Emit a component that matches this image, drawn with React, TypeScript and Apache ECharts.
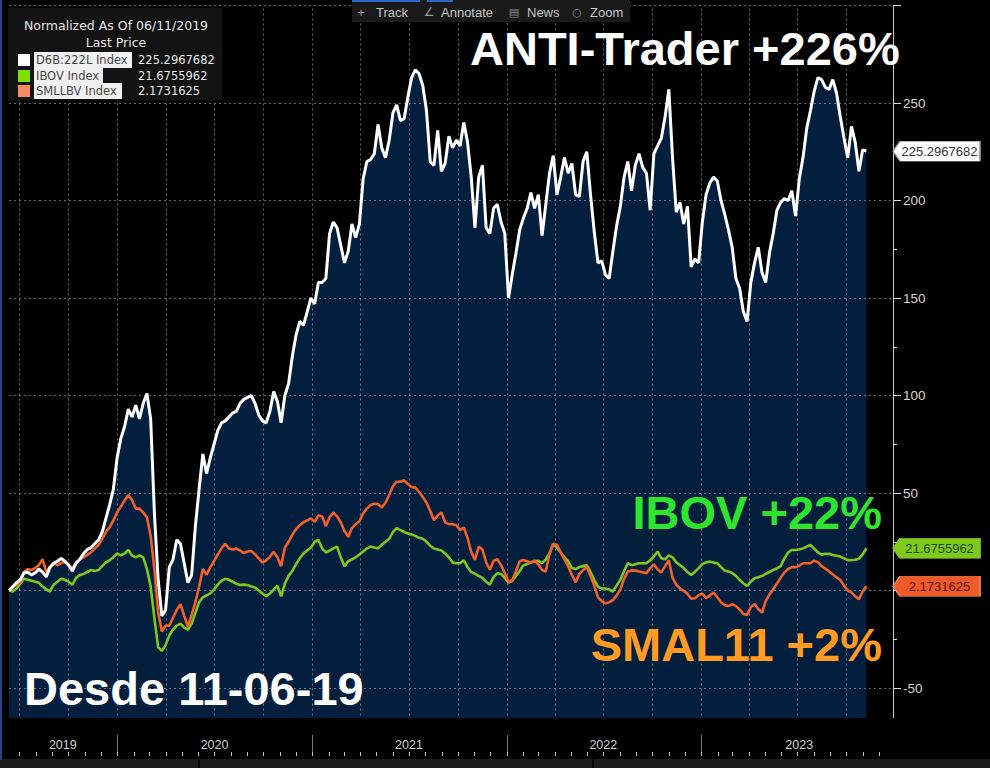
import React, { useEffect, useRef } from "react";
import * as echarts from "echarts";

// ---------------- data ----------------
const START_DATE = "2019-06-11";
const STEP_DAYS = 7;
const AXIS_END = "2023-12-27";

// D6B:222L Index (ANTI-Trader), weekly, normalized %
const ANTI = [
  0, 2, 4, 5.5, 9, 9.5, 8, 9, 11, 9.5,
  7, 12, 14, 15, 16.5, 15, 13, 10, 14, 16,
  19, 21, 22, 24, 26, 30, 37, 44, 52, 68,
  78, 84, 93, 89, 95, 88, 96, 101, 88, 40,
  6, -13, -10, 12, 16, 26, 24, 14, 4, 8,
  33, 52, 70, 60, 68, 75, 82, 86, 87, 89,
  91, 92, 96, 98, 99, 100, 96, 90, 87, 86,
  92, 102, 97, 86, 100, 106, 120, 131, 138, 136,
  143, 150, 147, 158, 158, 160, 183, 189, 186, 177,
  168, 174, 188, 181, 188, 211, 220, 221, 224, 239,
  227, 222, 231, 245, 249, 241, 242, 253, 263, 267,
  265, 259, 246, 220, 218, 236, 215, 219, 233, 227,
  231, 228, 240, 230, 212, 186, 212, 218, 186, 183,
  196, 198, 189, 183, 150, 162, 173, 185, 191, 196,
  204, 196, 203, 182, 198, 214, 223, 203, 212, 222,
  214, 219, 203, 202, 220, 225, 203, 184, 168, 169,
  162, 160, 174, 187, 197, 212, 220, 205, 218, 224,
  217, 214, 195, 224, 228, 232, 243, 257, 222, 194,
  199, 188, 197, 166, 170, 168, 189, 203, 209, 212,
  210, 200, 193, 185, 176, 160, 155, 143, 138, 158,
  168, 176, 163, 158, 173, 183, 195, 199, 201, 200,
  205, 192, 211, 222, 237, 246, 256, 263, 262, 258,
  257, 262, 255, 243, 232, 222, 238, 230, 215, 226,
  225.2967682,
];

// IBOV Index
const IBOV = [
  0, -0.5, 1, 3.5, 6, 5.5, 5, 4.5, 4, 2,
  0.5, -0.5, 3, 4.5, 6, 5.5, 4.5, 3, 6.5, 8,
  8.5, 9.5, 10.5, 10, 10.5, 12.5, 14.5, 15.5, 17, 19,
  18, 19, 20.8, 18, 17, 18, 17, 11, 2, -14,
  -29, -31, -28, -23, -20, -18, -17, -19, -20, -17,
  -11.5, -6, -3.5, -2.5, -1.5, 0.5, 3, 5, 6, 5.5,
  4.5, 3.5, 2.8, 3, 2.8, 2, 1.5, 0, -1.5, -3,
  -1.5, 0.5, 2.5, -3, 3.5, 7.5, 10, 13.5, 16.5, 19,
  20.5, 22, 25, 26, 21.6, 19.5, 20.5, 21.6, 22.5, 17,
  12.5, 15, 16, 17, 18.5, 20, 21.5, 22.5, 22, 21.6,
  23.5, 25, 26.5, 30, 32, 31, 30, 29.2, 28.7, 28,
  27, 26.5, 25, 23, 21.5, 21, 20.5, 19, 17, 14.3,
  14, 14, 15.5, 12, 9.5, 8.5, 7.5, 6.5, 4.5, 3,
  7, 8.8, 8.5, 6.5, 4, 5, 7.5, 10, 13, 13.5,
  14.5, 15, 15.3, 14, 16, 19, 24, 22, 19.5, 17,
  15, 11.5, 11, 12, 12.5, 13, 9.5, 5.5, 2, 1,
  1, 0.5, -0.5, 2.5, 5.5, 10, 14, 13, 13.5, 14,
  14, 14, 15.5, 17.5, 20, 16.5, 16, 18, 17, 14.5,
  13, 11.5, 9.5, 8, 9.5, 11.5, 13.5, 14.5, 14.8, 14.3,
  14, 12, 10.3, 9.8, 9, 7.5, 5.5, 3.7, 2.3, 4.5,
  6.3, 6.8, 7.5, 8.5, 9.5, 10.5, 11.3, 12.5, 16.5, 19.5,
  20.8, 20.8, 21, 21.6, 22.5, 23.3, 21.5, 19.5, 18.4, 18.8,
  18.8, 18.2, 17.8, 17.4, 16.5, 15.6, 15.6, 15.8, 16.3, 18.5,
  21.6755962,
];

// SMLLBV Index
const SMLL = [
  0, 1.5, 3.2, 4, 9.5, 11, 10.5, 11.5, 13, 16,
  9.5, 12, 13.8, 13, 14, 14.8, 13, 11.5, 14.5, 16,
  17, 18.3, 19.6, 21.5, 23.3, 26.5, 30, 32.5, 36, 40,
  43, 46, 49, 46.4, 42, 42, 40, 37.5, 28, 11,
  -11, -21, -18, -18, -14, -10, -7, -13, -18.5, -12.5,
  -6, 2, 11, 8, 12, 15, 18.5, 21.5, 24, 21.5,
  21, 21.5, 20.5, 19.2, 20, 20.3, 18.5, 16.5, 14.3, 15.5,
  17.4, 19.8, 17, 12.5, 22, 25, 28.5, 31.5, 33.5, 35,
  36, 37, 35.2, 38.5, 38, 33, 37.5, 40, 38, 35,
  30.5, 27.5, 32, 34, 35.5, 39.6, 42, 43.9, 44.5, 44.3,
  42.6, 45, 49, 53.5, 55.8, 55.8, 56.5, 54.6, 53, 52.8,
  50.5, 48, 45, 40.8, 36, 38.5, 40, 35, 34, 34,
  33.5, 31, 32.3, 27, 19.8, 15.7, 22.5, 21, 14.5, 10.7,
  15.3, 16, 13, 9, 4.5, 5.3, 10, 15, 15.6, 15,
  14.2, 15.4, 13.3, 10.5, 9.7, 19, 24, 23.5, 19.5, 16,
  12.5, 8, 4.2, 8.5, 10.5, 12, 7.5, 2.5, -3.5, -5.4,
  -6.6, -6, -5, -2.5, 0.5, 6, 9.7, 10.3, 10.2, 9.8,
  9.3, 8.9, 11.5, 13.4, 10.8, 9.3, 12.5, 15.5, 6.5, 3,
  1, -0.2, -1.7, -4.2, -4, -2.4, -1.5, -4, -2.5, -1,
  -3.5, -6, -7.5, -8, -7, -8, -9.7, -12, -12.5, -8.5,
  -7, -9.5, -11.3, -5.4, -2, 0.5, 3.5, 6.5, 9.3, 11,
  12, 12, 12.7, 14, 14, 14, 15.3, 14.5, 12.5, 11.2,
  9.8, 8.2, 6.8, 5.4, 2.5, 0, -1, -3, -4.5, -0.5,
  2.1731625,
];

const LAST_LABELS = ["225.2967682", "21.6755962", "2.1731625"];
const LEGEND_NAMES = ["D6B:222L Index", "IBOV Index", "SMLLBV Index"];

const Y_MIN = -100;
const Y_MAX = 300;
const Y_STEP = 50;

const QUARTER_LINES = [
  "2019-07-01", "2019-10-01",
  "2020-01-01", "2020-04-01", "2020-07-01", "2020-10-01",
  "2021-01-01", "2021-04-01", "2021-07-01", "2021-10-01",
  "2022-01-01", "2022-04-01", "2022-07-01", "2022-10-01",
  "2023-01-01", "2023-04-01", "2023-07-01", "2023-10-01",
];
const YEAR_STARTS = ["2020-01-01", "2021-01-01", "2022-01-01", "2023-01-01"];
const YEAR_LABELS = [
  { label: "2019", at: "2019-09-20" },
  { label: "2020", at: "2020-07-01" },
  { label: "2021", at: "2021-07-01" },
  { label: "2022", at: "2022-07-01" },
  { label: "2023", at: "2023-07-04" },
];

// ---------------- helpers ----------------
const DAY = 86400000;
const ts = (s: string) => Date.parse(s + "T00:00:00Z");
const X_MIN = ts(START_DATE);
const X_MAX = ts(AXIS_END);
const DATES = ANTI.map((_, i) => X_MIN + i * STEP_DAYS * DAY);

const MONTH_TICKS: number[] = [];
for (let y = 2019; y <= 2023; y++) {
  for (let m = 0; m < 12; m++) {
    const t = Date.UTC(y, m, 1);
    if (t > X_MIN && t < X_MAX) MONTH_TICKS.push(t);
  }
}

const FONT = '"Liberation Sans", Arial, sans-serif';
const LFONT = '"DejaVu Sans", sans-serif';
const BIG = `bold 47px ${FONT}`;

function tag(value: number, text: string, bg: string, fg: string, border: string) {
  return {
    silent: true,
    symbol: "path://M0,10L7,0L87,0L87,20L7,20Z",
    symbolSize: [87, 20],
    symbolKeepAspect: false,
    symbolOffset: [43.5, 0],
    itemStyle: { color: bg, borderColor: border, borderWidth: 0.8 },
    label: {
      show: true,
      position: "inside",
      offset: [3, 0],
      formatter: text,
      color: fg,
      fontSize: 13,
      fontFamily: FONT,
    },
    data: [{ coord: [X_MAX, value] }],
  };
}

function legendRow(i: number, y: number, swatch: string, labelW: number) {
  return [
    { type: "rect", z: 31, shape: { x: 18, y: y - 6, width: 12, height: 12 }, style: { fill: swatch } },
    { type: "rect", z: 31, shape: { x: 34, y: y - 8, width: labelW, height: 16 }, style: { fill: "#f0f0f0" } },
    {
      type: "text", z: 32, x: 36, y,
      style: { text: LEGEND_NAMES[i], fill: "#474747", font: `11.5px ${LFONT}`, align: "left", verticalAlign: "middle" },
    },
    {
      type: "text", z: 32, x: 138, y,
      style: { text: LAST_LABELS[i], fill: "#e6e6e6", font: `11.5px ${LFONT}`, align: "left", verticalAlign: "middle" },
    },
  ];
}

export default function App() {
  const ref = useRef<HTMLDivElement>(null);

  useEffect(() => {
    if (!ref.current) return;
    const chart = echarts.init(ref.current, null, { renderer: "svg" });
    const pair = (arr: number[]) => arr.map((v, i) => [DATES[i], v]);
    const n = ANTI.length - 1;

    const option: any = {
      animation: false,
      backgroundColor: "#000000",
      grid: [
        { left: 9, right: 97, top: 5.5, height: 780, outerBoundsMode: "none", containLabel: false },
        { left: 9, right: 97, top: 718, height: 34, outerBoundsMode: "none", containLabel: false },
      ],
      xAxis: [
        { type: "time", gridIndex: 0, min: X_MIN, max: X_MAX, show: false },
        {
          type: "value", gridIndex: 1, min: X_MIN, max: X_MAX, position: "top", z: 20,
          axisLine: { show: false },
          splitLine: { show: false },
          axisTick: { show: true, inside: true, length: 4, customValues: MONTH_TICKS, lineStyle: { color: "#bdbdbd" } },
          axisLabel: {
            show: true, inside: true, margin: 27, verticalAlign: "middle",
            customValues: YEAR_LABELS.map((d) => ts(d.at)),
            formatter: (v: number) => {
              const f = YEAR_LABELS.find((d) => ts(d.at) === v);
              return f ? f.label : "";
            },
            color: "#d0d0d0", fontSize: 12.5, fontFamily: FONT,
          },
        },
        {
          type: "value", gridIndex: 1, min: X_MIN, max: X_MAX, position: "bottom", z: 20,
          axisLine: { show: false },
          splitLine: { show: false },
          axisLabel: { show: false },
          axisTick: { show: true, inside: true, length: 17, customValues: YEAR_STARTS.map(ts), lineStyle: { color: "#7a7a7a" } },
        },
      ],
      yAxis: [
        {
          type: "value", gridIndex: 0, position: "right", min: Y_MIN, max: Y_MAX, interval: Y_STEP, z: 2.5,
          axisLine: { show: true, lineStyle: { color: "#c8c8c8", width: 1 } },
          axisTick: { show: true, length: 8, lineStyle: { color: "#dddddd" } },
          minorTick: { show: true, splitNumber: 2, length: 4, lineStyle: { color: "#dddddd" } },
          axisLabel: {
            color: "#d6d6d6", fontSize: 13.5, fontFamily: FONT, margin: 10,
            formatter: (v: number) => (v === Y_MIN || v === Y_MAX ? "" : String(v)),
          },
          splitLine: { show: true, lineStyle: { color: "rgba(190,190,190,0.55)", type: [2, 3], width: 1 } },
        },
        { type: "value", gridIndex: 1, min: 0, max: 1, show: false },
      ],
      series: [
        {
          name: "fill", type: "line", xAxisIndex: 0, yAxisIndex: 0, z: 2, silent: true,
          data: pair(ANTI), symbol: "none", showSymbol: false,
          lineStyle: { width: 0 },
          areaStyle: { color: "#041e3e", opacity: 1, origin: "start" },
          markLine: {
            silent: true, z: 2.5, symbol: ["none", "none"],
            label: { show: false },
            emphasis: { disabled: true },
            lineStyle: { color: "rgba(190,190,190,0.55)", type: [2, 3], width: 1 },
            data: QUARTER_LINES.map((d) => ({ xAxis: ts(d) })),
          },
        },
        {
          name: "IBOV Index", type: "line", z: 3, data: pair(IBOV), symbol: "none", showSymbol: false,
          lineStyle: { color: "#7dc81e", width: 2.6 },
          markPoint: tag(IBOV[n], LAST_LABELS[1], "#80c81c", "#1a4a00", "#80c81c"),
        },
        {
          name: "SMLLBV Index", type: "line", z: 3, data: pair(SMLL), symbol: "none", showSymbol: false,
          lineStyle: { color: "#f55f28", width: 2.6 },
          markPoint: tag(SMLL[n], LAST_LABELS[2], "#f05a28", "#5a1000", "#f58a60"),
        },
        {
          name: "D6B:222L Index", type: "line", z: 3, data: pair(ANTI), symbol: "none", showSymbol: false,
          lineStyle: { color: "#ffffff", width: 3 },
          markPoint: tag(ANTI[n], LAST_LABELS[0], "#ffffff", "#333333", "#9a9a9a"),
        },
      ],
      graphic: [
        // bottom band
        { type: "rect", z: 10, silent: true, shape: { x: 0, y: 718, width: 990, height: 50 }, style: { fill: "#000000" } },
        { type: "rect", z: 11, silent: true, shape: { x: 0, y: 759, width: 990, height: 9 }, style: { fill: "#1c1c1c" } },
        { type: "rect", z: 12, silent: true, shape: { x: 198, y: 759, width: 2, height: 9 }, style: { fill: "#050505" } },
        { type: "rect", z: 12, silent: true, shape: { x: 592, y: 759, width: 2, height: 9 }, style: { fill: "#050505" } },
        // left blue border
        { type: "rect", z: 12, silent: true, shape: { x: 0, y: 0, width: 2, height: 760 }, style: { fill: "#27457f" } },
        // toolbar
        { type: "rect", z: 30, silent: true, shape: { x: 352, y: 0, width: 278, height: 22 }, style: { fill: "#1a1a1a" } },
        { type: "rect", z: 31, silent: true, shape: { x: 352, y: 0, width: 68, height: 2 }, style: { fill: "#2a66c8" } },
        { type: "rect", z: 31, silent: true, shape: { x: 427, y: 0, width: 26, height: 2 }, style: { fill: "#2a66c8" } },
        { type: "text", z: 31, x: 361, y: 12, style: { text: "+", fill: "#9a9a9a", font: `13px ${FONT}`, align: "center", verticalAlign: "middle" } },
        { type: "text", z: 31, x: 376, y: 12, style: { text: "Track", fill: "#c4c4c4", font: `13px ${FONT}`, align: "left", verticalAlign: "middle" } },
        { type: "text", z: 31, x: 429, y: 12, style: { text: "∠", fill: "#9a9a9a", font: `12px ${LFONT}`, align: "center", verticalAlign: "middle" } },
        { type: "text", z: 31, x: 441, y: 12, style: { text: "Annotate", fill: "#c4c4c4", font: `13px ${FONT}`, align: "left", verticalAlign: "middle" } },
        { type: "text", z: 31, x: 514, y: 12, style: { text: "▤", fill: "#8a8a8a", font: `11px ${LFONT}`, align: "center", verticalAlign: "middle" } },
        { type: "text", z: 31, x: 527, y: 12, style: { text: "News", fill: "#c4c4c4", font: `13px ${FONT}`, align: "left", verticalAlign: "middle" } },
        { type: "text", z: 31, x: 577, y: 12, style: { text: "○", fill: "#8a8a8a", font: `11px ${LFONT}`, align: "center", verticalAlign: "middle" } },
        { type: "text", z: 31, x: 590, y: 12, style: { text: "Zoom", fill: "#c4c4c4", font: `13px ${FONT}`, align: "left", verticalAlign: "middle" } },
        // legend box
        { type: "rect", z: 30, silent: true, shape: { x: 8, y: 8, width: 214, height: 92 }, style: { fill: "#131313" } },
        { type: "text", z: 32, x: 116, y: 25, style: { text: "Normalized As Of 06/11/2019", fill: "#e6e6e6", font: `12.5px ${LFONT}`, align: "center", verticalAlign: "middle" } },
        { type: "text", z: 32, x: 116, y: 42, style: { text: "Last Price", fill: "#e6e6e6", font: `12.5px ${LFONT}`, align: "center", verticalAlign: "middle" } },
        ...legendRow(0, 60, "#ffffff", 98),
        ...legendRow(1, 76, "#7fe000", 69),
        ...legendRow(2, 91, "#f68a68", 88),
        // annotations
        { type: "text", z: 40, x: 470, y: 48, style: { text: "ANTI-Trader +226%", fill: "#ffffff", font: BIG, align: "left", verticalAlign: "middle" } },
        { type: "text", z: 40, x: 882, y: 512, style: { text: "IBOV +22%", fill: "#2fe42f", font: BIG, align: "right", verticalAlign: "middle" } },
        { type: "text", z: 40, x: 882, y: 644, style: { text: "SMAL11 +2%", fill: "#ff9b22", font: BIG, align: "right", verticalAlign: "middle" } },
        { type: "text", z: 40, x: 24, y: 688, style: { text: "Desde 11-06-19", fill: "#ffffff", font: BIG, align: "left", verticalAlign: "middle" } },
      ],
    };

    chart.setOption(option);
    return () => chart.dispose();
  }, []);

  return (
    <div
      ref={ref}
      style={{ position: "fixed", left: 0, top: 0, width: 990, height: 768, background: "#000" }}
    />
  );
}
